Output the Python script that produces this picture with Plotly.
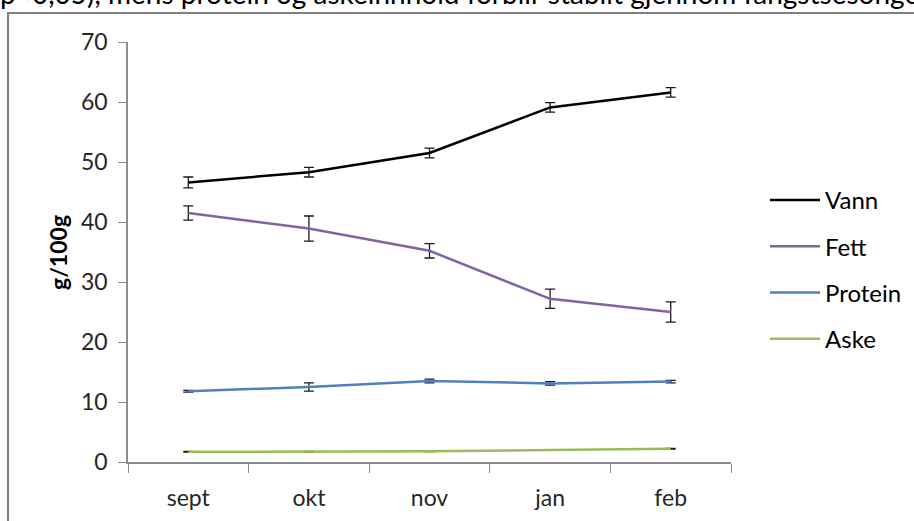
import plotly.graph_objects as go

# Sampling months
months = ["sept", "okt", "nov", "jan", "feb"]

# Mean composition (g/100g) and standard deviations
vann = [46.6, 48.3, 51.5, 59.1, 61.6]
vann_sd = [0.9, 0.8, 0.8, 0.8, 0.8]

fett = [41.5, 38.9, 35.2, 27.2, 25.0]
fett_sd = [1.2, 2.1, 1.2, 1.6, 1.7]

protein = [11.8, 12.5, 13.5, 13.1, 13.4]
protein_sd = [0.15, 0.7, 0.3, 0.3, 0.2]

aske = [1.7, 1.7, 1.8, 2.0, 2.2]
aske_sd = [0.05, 0.05, 0.05, 0.05, 0.05]

series = [
    ("Vann", vann, vann_sd, "#000000"),
    ("Fett", fett, fett_sd, "#8064A2"),
    ("Protein", protein, protein_sd, "#4F81BD"),
    ("Aske", aske, aske_sd, "#9BBB59"),
]

FONT = "Lato, 'Open Sans', sans-serif"
W, H = 914, 521
L, R, T, B = 128, 183, 42, 59
PW, PH = W - L - R, H - T - B


def px_x(px):
    return (px - L) / PW


def px_y(py):
    return (H - B - py) / PH


fig = go.Figure()
for name, vals, sd, color in series:
    fig.add_trace(go.Scatter(
        x=months, y=vals, name=name, mode="lines",
        line=dict(color=color, width=2.5),
        legendgroup=name,
        error_y=dict(type="data", array=sd, visible=True,
                     color="#1a1a1a", thickness=1.3, width=5),
    ))

axis_col = "#8c8c8c"
fig.update_xaxes(
    type="category", range=[-0.5, 4.5],
    showline=True, linecolor=axis_col, linewidth=1.5,
    ticks="outside", tickson="boundaries", ticklen=9, tickcolor=axis_col,
    tickwidth=1.3, showgrid=False, zeroline=False,
    tickfont=dict(family=FONT, size=23, color="#262626"),
    ticklabelstandoff=15,
)
fig.update_yaxes(
    range=[0, 70], dtick=10,
    showline=True, linecolor=axis_col, linewidth=1.5,
    ticks="outside", ticklen=8, tickcolor=axis_col, tickwidth=1.3,
    showgrid=False, zeroline=False,
    tickfont=dict(family=FONT, size=23, color="#262626"),
    ticklabelstandoff=6,
)

# Y-axis title
fig.add_annotation(
    text="<b>g/100g</b>", xref="paper", yref="paper",
    x=px_x(58), y=px_y(253), xanchor="center", yanchor="middle",
    textangle=-90, showarrow=False,
    font=dict(family=FONT, size=23, color="#000000"),
)

# Caption line above the frame
fig.add_annotation(
    text="p<0,05), mens protein og askeinnhold forblir stabilt gjennom fangstsesongen.",
    xref="paper", yref="paper", x=px_x(-2), y=px_y(12),
    xanchor="left", yanchor="bottom", showarrow=False,
    font=dict(family=FONT, size=28, color="#000000"),
)

# Chart frame
fig.add_shape(
    type="rect", xref="paper", yref="paper",
    x0=px_x(8), x1=px_x(W + 20), y0=px_y(H + 20), y1=px_y(13),
    line=dict(color="#808080", width=2), layer="below",
)

fig.update_layout(
    width=W, height=H, autosize=False,
    margin=dict(l=L, r=R, t=T, b=B, autoexpand=False),
    paper_bgcolor="white", plot_bgcolor="white",
    showlegend=True,
    legend=dict(
        x=px_x(765), y=px_y(178), xanchor="left", yanchor="top",
        font=dict(family=FONT, size=24, color="#000000"),
        traceorder="grouped", tracegroupgap=12,
        bgcolor="rgba(0,0,0,0)", itemwidth=50,
    ),
)

fig.write_html("out.html")
